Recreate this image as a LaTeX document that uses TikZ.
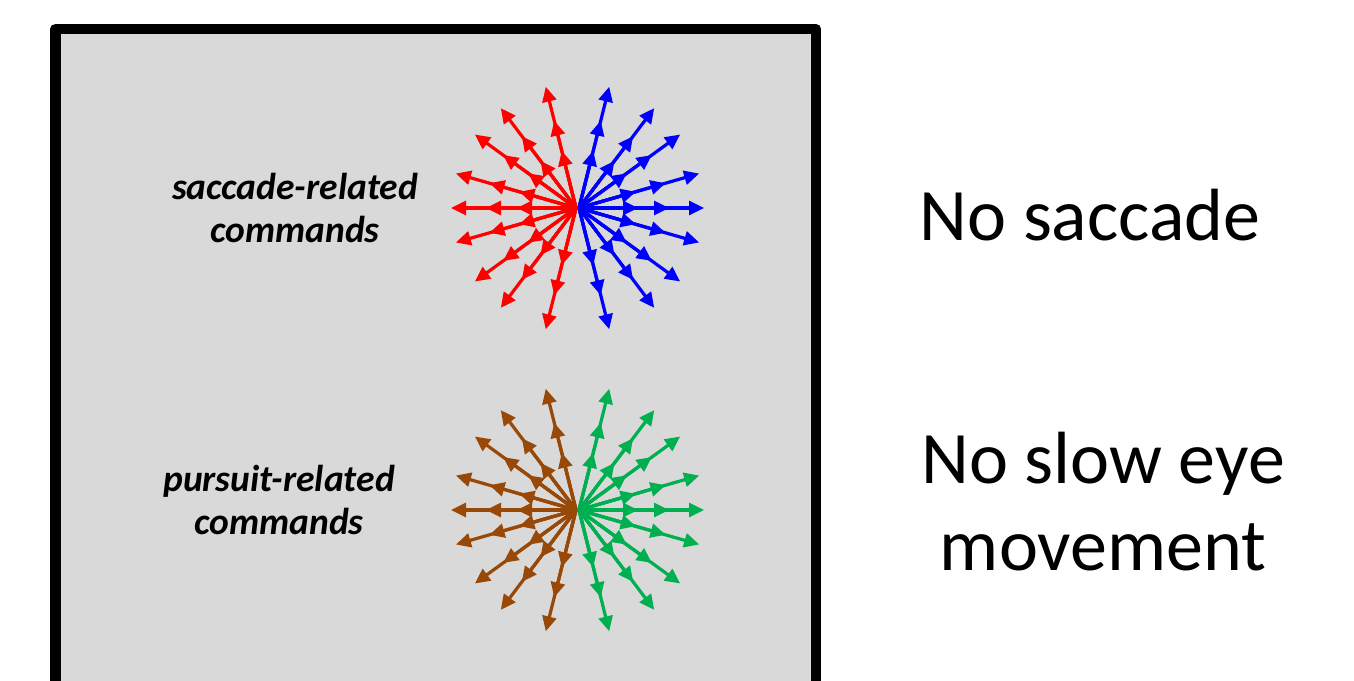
\documentclass[tikz,border=0pt]{standalone}
\usepackage{fontspec}
\setmainfont{Carlito}
\usetikzlibrary{arrows.meta,calc}
\definecolor{boxgray}{HTML}{D9D9D9}
\definecolor{sacred}{HTML}{FF0000}
\definecolor{sacblue}{HTML}{0000FF}
\definecolor{purbrown}{HTML}{984807}
\definecolor{purgreen}{HTML}{00B050}
\tikzset{
  ray/.style={line width=3.2pt, -{Triangle[length=15pt,width=14pt]}},
  cmdlabel/.style={font=\fontsize{37.5}{43}\selectfont\bfseries\itshape, align=center, inner sep=0pt},
  bigtext/.style={font=\fontsize{74}{87}\selectfont, align=center, inner sep=0pt},
  frame/.style={line width=10.5pt, draw=black, fill=boxgray, line join=round}
}
\newcommand{\burst}[3]{% center, left colour, right colour
  \foreach \a in {76,53,36,16,0,-16,-36,-53,-76}{
    \foreach \r in {59,90,125}{
      \draw[ray,#3] ($(#1)+(1.5,0)$) -- ($(#1)+(1.5,0)+(\a:\r)$);
      \draw[ray,#2] ($(#1)+(-1.5,0)$) -- ($(#1)+(-1.5,0)+(180-\a:\r)$);
    }
  }
}
\begin{document}
\begin{tikzpicture}[x=1pt,y=-1pt]
\useasboundingbox (0,0) rectangle (1354,680);
\clip (0,0) rectangle (1354,680);
\draw[frame] (55.3,29.2) rectangle (816.2,740);
\coordinate (c1) at (577.5,208);
\coordinate (c2) at (577.5,510);
\burst{c1}{sacred}{sacblue}
\burst{c2}{purbrown}{purgreen}
\node[cmdlabel, anchor=base] (sac) at (295,242) {saccade-related\\commands};
\node[cmdlabel, anchor=base] (pur) at (279,534) {pursuit-related\\commands};
\node[bigtext, anchor=base] (nosac) at (1090,240) {No saccade};
\node[bigtext, anchor=base] (noslow) at (1103,570) {No slow eye\\movement};
\end{tikzpicture}
\end{document}
